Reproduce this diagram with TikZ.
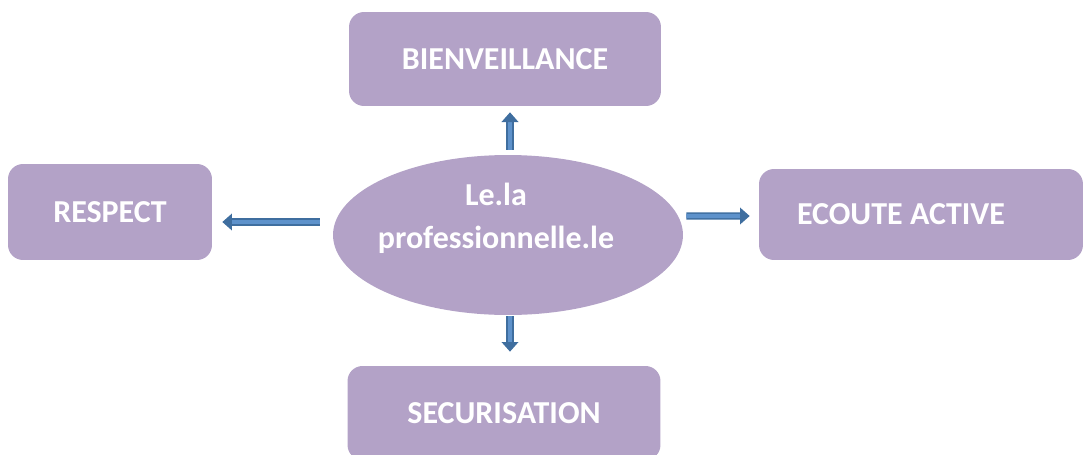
\documentclass[tikz,border=0pt]{standalone}
\usepackage{fontspec}
\setmainfont{Carlito}
\usepackage{xcolor}
\usepackage{tikz}
\usetikzlibrary{shapes.geometric, arrows.meta, positioning}
\definecolor{lilas}{HTML}{B3A2C7}
\definecolor{arrowedge}{HTML}{3F6E9F}
\definecolor{arrowfill}{HTML}{5E92CB}
\tikzstyle{quality} = [rectangle, rounded corners=0.3cm, inner sep=0pt, text centered, fill=lilas, text=white, font=\fontsize{18.2}{21}\selectfont\bfseries]
\tikzstyle{hub} = [ellipse, inner sep=0pt, minimum width=7cm, minimum height=3.2cm, fill=lilas]
\tikzstyle{hubtext} = [align=center, text=white, font=\fontsize{18.2}{24.5}\selectfont\bfseries]
\tikzstyle{arrow} = [draw=arrowedge, line width=0.85pt, double=arrowfill, double distance=2.3pt, -{Triangle[length=5.5pt,width=9.5pt]}]

\begin{document}
\begin{tikzpicture}[x=0.02cm, y=-0.02cm]
			
			\useasboundingbox (0,0) rectangle (1083,454);
			\clip (0,0) rectangle (1083,454);
			
			\node (prof) [hub] at (508,235) {};
			\node (prof_text) [hubtext] at (496,218) {Le.la\\professionnelle.le};
			
			\node (bienveillance) [quality, minimum width=6.24cm, minimum height=1.88cm] at (505,59) {BIENVEILLANCE};
			
			\node (respect) [quality, minimum width=4.08cm, minimum height=1.92cm] at (110,212) {RESPECT};
			
			\node (ecoute) [quality, minimum width=6.48cm, minimum height=1.82cm, text width=4.96cm, align=flush left] at (921,214.5) {ECOUTE ACTIVE};
			
			\node (securisation) [quality, minimum width=6.26cm, minimum height=1.88cm] at (504,413) {SECURISATION};
			
			
			\draw [arrow] ([shift={(2,-5)}]prof.north) -- ([shift={(5,6)}]bienveillance.south);
			\draw [arrow] ([shift={(-13,-13)}]prof.west) -- ([shift={(10,10)}]respect.east);
			\draw [arrow] ([shift={(3,-19)}]prof.east) -- ([shift={(-9,1.5)}]ecoute.west);
			\draw [arrow] ([shift={(2,1)}]prof.south) -- ([shift={(6,-14)}]securisation.north);
			
			
		\end{tikzpicture}
\end{document}
